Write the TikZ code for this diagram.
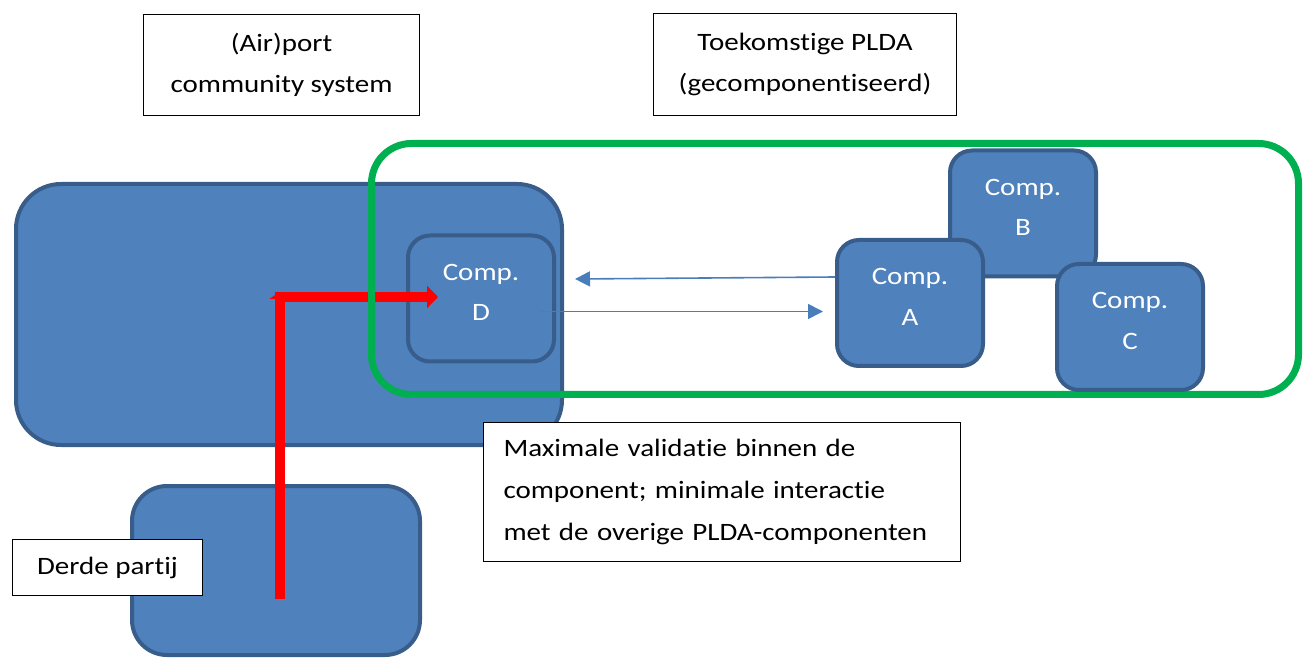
\documentclass[tikz,border=0pt]{standalone}
\usepackage{fontspec}
\setmainfont{Carlito}[FakeStretch=1.16, Ligatures=NoCommon]
\usetikzlibrary{arrows.meta}
\definecolor{bfill}{HTML}{4F81BD}
\definecolor{bline}{HTML}{385D8A}
\definecolor{gline}{HTML}{00B050}
\definecolor{rline}{HTML}{FF0000}
\definecolor{aline}{HTML}{4A7EBB}
\tikzset{
  bluebox/.style={draw=bline, fill=bfill, line width=4pt, rectangle, inner sep=0pt},
  compbox/.style={bluebox, minimum width=146pt, minimum height=126pt, rounded corners=22pt, text=white, align=center},
  labelbox/.style={draw=black, fill=white, line width=1.5pt, rectangle, inner sep=0pt, align=center},
  redarrow/.style={draw=rline, line width=10pt, -{Triangle[width=22pt,length=11pt]}},
  bluearrow/.style={draw=aline, line width=1.6pt, -{Triangle[width=15pt,length=15pt]}},
}
\newcommand{\lowdepth}{\rule[-12pt]{0pt}{12pt}}
\begin{document}
\begin{tikzpicture}[x=1pt,y=-1pt,font=\fontsize{25}{40.5}\selectfont]
\useasboundingbox (0,0) rectangle (1310,660);
% background blue shapes
\node[bluebox, minimum width=546pt, minimum height=261pt, rounded corners=45pt] (acs) at (289,314.5) {};
\node[bluebox, minimum width=288pt, minimum height=169pt, rounded corners=35pt] (third) at (276,570.5) {};
% title boxes
\node[labelbox, minimum width=276pt, minimum height=101pt] (acslabel) at (281.5,65) {(Air)port\\community system};
\node[labelbox, minimum width=303pt, minimum height=102pt] (pldalabel) at (805,64.5) {Toekomstige PLDA\\(gecomponentiseerd)};
% component D
\node[compbox] (D) at (481,298.5) {Comp.\\D\lowdepth};
% red arrows
\coordinate (rbot) at (279.5,599);
\coordinate (rtop) at (279.5,292);
\coordinate (rstart) at (275,297);
\coordinate (rend) at (438,297);
\draw[redarrow, -{Triangle[width=20pt,length=7pt]}] (rbot) -- (rtop);
\draw[redarrow] (rstart) -- (rend);
% green PLDA boundary
\node[draw=gline, line width=7pt, rectangle, minimum width=927pt, minimum height=251pt, rounded corners=40pt] (plda) at (835,269) {};
% components
\node[compbox] (B) at (1023,213.5) {Comp.\\B\lowdepth};
\node[compbox] (A) at (910,303) {Comp.\\A\lowdepth};
\node[compbox] (C) at (1130,327) {Comp.\\C\lowdepth};
% blue arrows
\coordinate (dtip) at (575,279);
\coordinate (atip) at (823,311.5);
\draw[bluearrow] ([yshift=26pt]A.west) -- (dtip);
\draw[bluearrow] ([xshift=60pt,yshift=-13pt]D.center) -- (atip);
% other labels
\node[labelbox, minimum width=190pt, minimum height=56pt] (derde) at (107.5,567.5) {Derde partij};
\node[labelbox, text width=437pt, inner xsep=20pt, minimum height=139pt, align=left, font=\fontsize{25}{42}\selectfont] (note) at (722,492) {Maximale validatie binnen de\\component; minimale interactie\\met de overige PLDA-componenten};
\end{tikzpicture}
\end{document}
